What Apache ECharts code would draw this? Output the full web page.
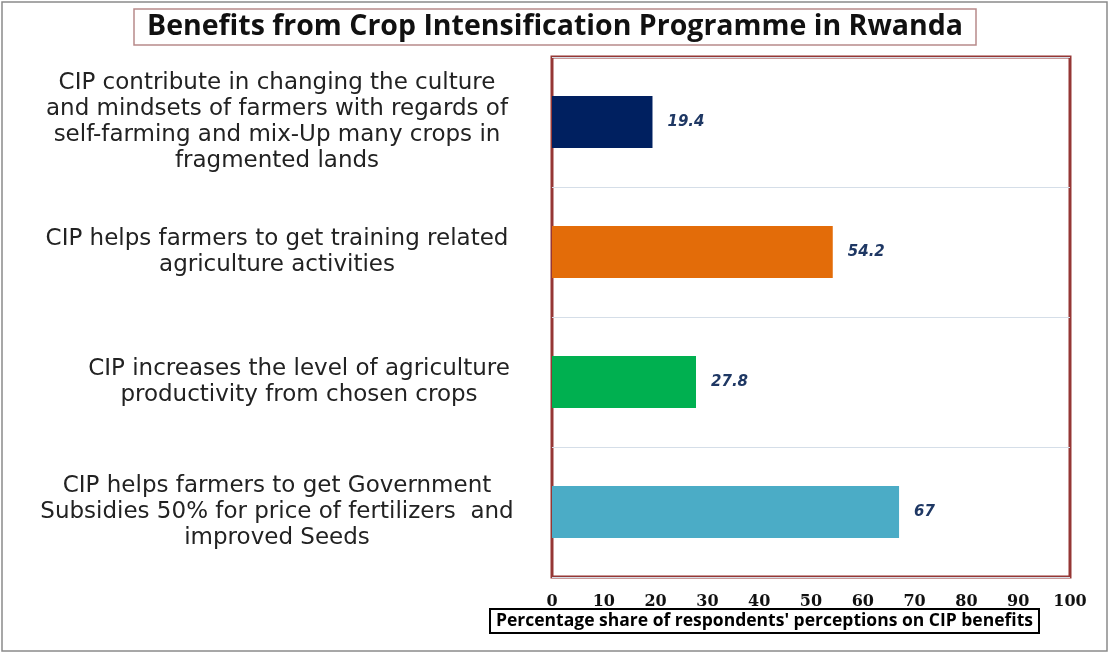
<!DOCTYPE html>
<html>
<head>
<meta charset="utf-8">
<script src="https://cdn.jsdelivr.net/npm/echarts@6/dist/echarts.min.js"></script>
<style>html,body{margin:0;padding:0;background:#fff;}#c{width:1110px;height:653px;}</style>
</head>
<body>
<div id="c"></div>
<script>
const titleText = 'Benefits from Crop Intensification Programme in Rwanda';
const axisTitle = "Percentage share of respondents' perceptions on CIP benefits";
const categories = [
  'CIP contribute in changing the culture\nand mindsets of farmers with regards of\nself-farming and mix-Up many crops in\nfragmented lands',
  'CIP helps farmers to get training related\nagriculture activities',
  'CIP increases the level of agriculture\nproductivity from chosen crops',
  'CIP helps farmers to get Government\nSubsidies 50% for price of fertilizers  and\nimproved Seeds'
];
const values = [19.4, 54.2, 27.8, 67];
const barColors = ['#002060', '#E36C09', '#00B050', '#4BACC6'];
const xMin = 0, xMax = 100, xInterval = 10;

const labelFont = { fontFamily: 'DejaVu Sans', fontSize: 23, lineHeight: 26, color: '#222' };

const chart = echarts.init(document.getElementById('c'));
chart.setOption({
  backgroundColor: '#ffffff',
  animation: false,
  title: [
    {
      text: titleText,
      left: 'center',
      top: 9,
      padding: [2, 13, 2, 13],
      borderColor: '#B88A8A',
      borderWidth: 1.5,
      textStyle: { fontFamily: 'Open Sans', fontWeight: 'bold', fontSize: 28.5, lineHeight: 32, color: '#111' }
    },
    {
      text: axisTitle,
      left: 490,
      top: 609,
      padding: [2, 6, 2, 6],
      borderColor: '#000',
      borderWidth: 2,
      textStyle: { fontFamily: 'Open Sans', fontWeight: 'bold', fontSize: 17.5, lineHeight: 20, color: '#000' }
    }
  ],
  graphic: [
    { type: 'rect', shape: { x: 2, y: 2, width: 1105, height: 649 }, style: { fill: 'none', stroke: '#8a8a8a', lineWidth: 1.5 }, silent: true }
  ],
  grid: {
    left: 552, right: 40, top: 57, bottom: 76,
    show: true, borderColor: '#953735', borderWidth: 3, backgroundColor: 'transparent'
  },
  xAxis: {
    type: 'value', min: xMin, max: xMax, interval: xInterval,
    axisLine: { show: false }, axisTick: { show: false },
    splitLine: { show: false },
    axisLabel: { margin: 17, fontFamily: 'DejaVu Serif', fontWeight: 'bold', fontSize: 16, color: '#111' }
  },
  yAxis: {
    type: 'category', data: categories, inverse: true,
    axisLine: { show: false }, axisTick: { show: false },
    splitLine: { show: true, lineStyle: { color: '#D5DEE8', width: 1 } },
    axisLabel: Object.assign({
      margin: 275, align: 'center',
      formatter: function (value, index) {
        if (index === 2) {
          return value.split('\n').map(function (l) { return '{s|' + l + '}'; }).join('\n');
        }
        return value;
      },
      rich: { s: Object.assign({ padding: [0, 0, 0, 44] }, labelFont) }
    }, labelFont)
  },
  series: [{
    type: 'bar',
    data: values.map((v, i) => ({ value: v, itemStyle: { color: barColors[i] } })),
    barWidth: '40%',
    label: {
      show: true, position: 'right', distance: 15,
      fontFamily: 'DejaVu Sans', fontStyle: 'italic', fontWeight: 'bold', fontSize: 15, color: '#1F3864'
    }
  }]
});
</script>
</body>
</html>
